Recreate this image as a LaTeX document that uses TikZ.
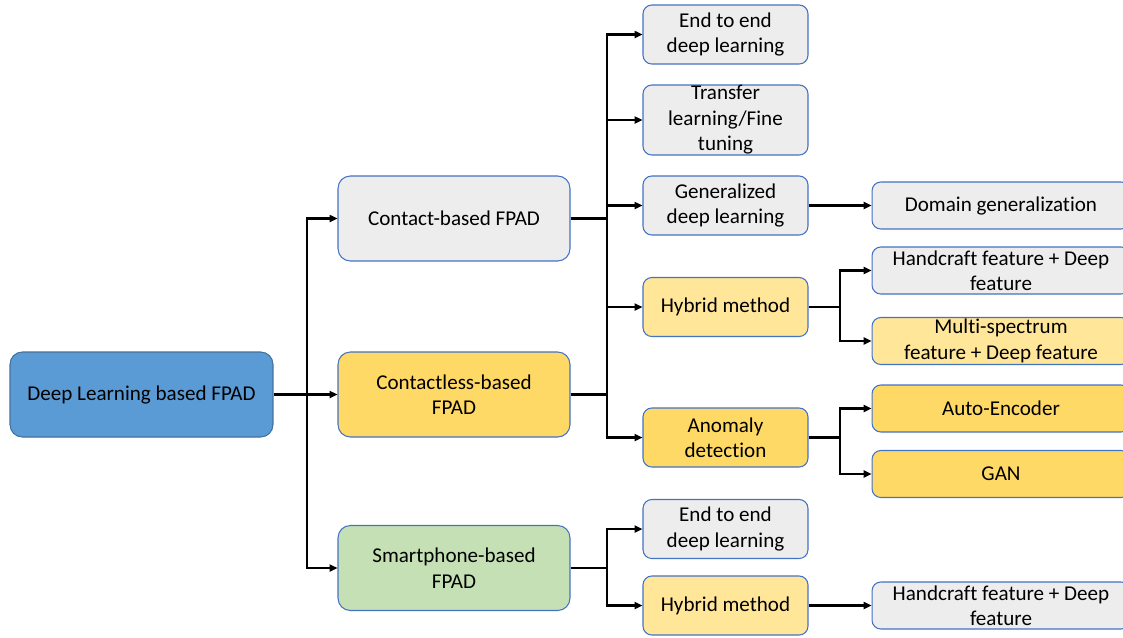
\documentclass[tikz,border=0pt]{standalone}
\usepackage{fontspec}
\setmainfont{Carlito}[Ligatures={NoCommon}]
\usetikzlibrary{arrows.meta}
\definecolor{rootblue}{RGB}{91,155,213}
\definecolor{rootline}{RGB}{65,113,156}
\definecolor{boxline}{RGB}{68,114,196}
\definecolor{boxgray}{RGB}{237,237,237}
\definecolor{boxgold}{RGB}{255,217,102}
\definecolor{boxlight}{RGB}{255,230,153}
\definecolor{boxgreen}{RGB}{197,224,180}
\tikzset{
	box/.style={draw=boxline, line width=0.6pt, rounded corners=5pt, inner sep=0pt, align=center, font=\fontsize{12}{14.5}\selectfont},
	rootbox/.style={box, draw=rootline, fill=rootblue, minimum width=5.26cm, minimum height=1.7cm, rounded corners=7pt},
	midbox/.style={box, minimum width=4.64cm, minimum height=1.7cm, rounded corners=7pt},
	subbox/.style={box, minimum width=3.3cm, minimum height=1.18cm},
	leafbox/.style={box, minimum width=5.16cm, minimum height=0.94cm},
	conn/.style={line width=1.2pt},
	arr/.style={conn, -{Triangle[length=4.5pt,width=4pt]}}
}
\begin{document}
\begin{tikzpicture}[x=0.02cm, y=-0.02cm]
	\useasboundingbox (0,0) rectangle (1123,637);
	
	% root
	\node[rootbox] (root) at (141.5,394.5) {Deep Learning based FPAD};
	
	% FPAD types
	\node[midbox, fill=boxgray] (contact) at (454,218.5) {Contact-based FPAD};
	\node[midbox, fill=boxgold] (contactless) at (454,394.5) {Contactless-based\\FPAD};
	\node[midbox, fill=boxgreen] (smartphone) at (454,568) {Smartphone-based\\FPAD};
	
	% methods
	\node[subbox, fill=boxgray] (endend) at (725.5,34.5) {End to end\\deep learning};
	\node[subbox, fill=boxgray, minimum height=1.4cm] (transfer) at (725.5,120) {Transfer\\learning/Fine\\tuning};
	\node[subbox, fill=boxgray] (general) at (725.5,205.5) {Generalized\\deep learning};
	\node[subbox, fill=boxlight] (hybrid) at (725.5,307) {Hybrid method};
	\node[subbox, fill=boxgold] (anomaly) at (725.5,437.5) {Anomaly\\detection};
	\node[subbox, fill=boxgray] (endendsp) at (725.5,529) {End to end\\deep learning};
	\node[subbox, fill=boxlight] (hybridsp) at (725.5,605.5) {Hybrid method};
	
	% leaves
	\node[leafbox, fill=boxgray] (domain) at (1001,205.5) {Domain generalization};
	\node[leafbox, fill=boxgray] (handcraft) at (1001,270.5) {Handcraft feature + Deep\\feature};
	\node[leafbox, fill=boxlight] (multi) at (1001,341) {Multi-spectrum\\feature + Deep feature};
	\node[leafbox, fill=boxgold] (autoenc) at (1001,408.5) {Auto-Encoder};
	\node[leafbox, fill=boxgold] (gan) at (1001,474) {GAN};
	\node[leafbox, fill=boxgray] (handcraftsp) at (1001,605.5) {Handcraft feature + Deep\\feature};
	
	% root to types
	\coordinate (bus1) at (307,394.5);
	\draw[conn] (root.east) -- (bus1);
	\draw[arr] (bus1) |- (contact.west);
	\draw[arr] (bus1) -- (contactless.west);
	\draw[arr] (bus1) |- (smartphone.west);
	
	% contact / contactless to methods
	\coordinate (bus2) at (607,218.5);
	\draw[conn] (contact.east) -- (bus2);
	\draw[conn] (contactless.east) -| (bus2);
	\foreach \m in {endend, transfer, general, hybrid, anomaly}
		\draw[arr] (bus2) |- (\m.west);
	
	% smartphone to methods
	\coordinate (bus3) at (607,568);
	\draw[conn] (smartphone.east) -- (bus3);
	\draw[arr] (bus3) |- (endendsp.west);
	\draw[arr] (bus3) |- (hybridsp.west);
	
	% methods to leaves
	\draw[arr] (general.east) -- (domain.west);
	\coordinate (bus4) at (840,307);
	\draw[conn] (hybrid.east) -- (bus4);
	\draw[arr] (bus4) |- (handcraft.west);
	\draw[arr] (bus4) |- (multi.west);
	\coordinate (bus5) at (840,437.5);
	\draw[conn] (anomaly.east) -- (bus5);
	\draw[arr] (bus5) |- (autoenc.west);
	\draw[arr] (bus5) |- (gan.west);
	\draw[arr] (hybridsp.east) -- (handcraftsp.west);
	
\end{tikzpicture}
\end{document}
